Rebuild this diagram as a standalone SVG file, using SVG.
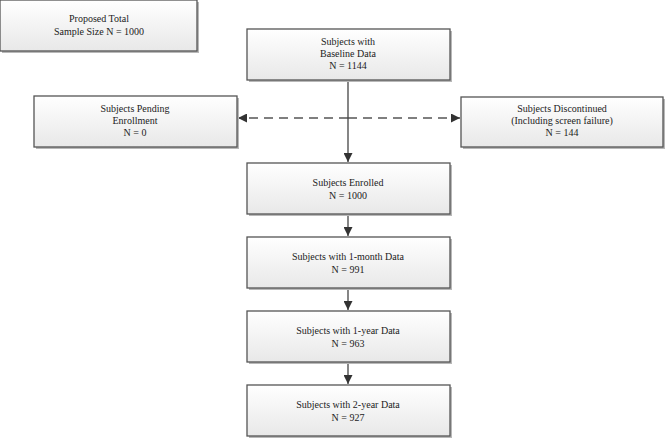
<svg xmlns="http://www.w3.org/2000/svg" width="666" height="438" viewBox="0 0 666 438">
<defs>
<linearGradient id="g" x1="0" y1="0" x2="0" y2="1">
<stop offset="0" stop-color="#ffffff"/>
<stop offset="1" stop-color="#e8e8e8"/>
</linearGradient>
<marker id="ah" viewBox="0 0 10 10" refX="10" refY="5" markerWidth="9" markerHeight="9" markerUnits="userSpaceOnUse" orient="auto">
<path d="M0,0 L10,5 L0,10 z" fill="#333"/>
</marker>
<style>
.sh{fill:#b8b8b8;}
.box{fill:url(#g);stroke:#555;stroke-width:1.3;}
text{font-family:"Liberation Serif","Times New Roman",serif;font-size:10px;fill:#222;text-anchor:middle;}
.ln{stroke:#444;stroke-width:1.3;fill:none;}
.dash{stroke:#555;stroke-width:1.3;fill:none;stroke-dasharray:9,6;}
</style>
</defs>
<g id="connectors">
<line class="dash" x1="348" y1="118" x2="238" y2="118" marker-end="url(#ah)"/>
<line class="dash" x1="348" y1="118" x2="460" y2="118" marker-end="url(#ah)"/>
<line class="ln" x1="348" y1="81" x2="348" y2="162" marker-end="url(#ah)"/>
<line class="ln" x1="348" y1="215" x2="348" y2="236" marker-end="url(#ah)"/>
<line class="ln" x1="348" y1="289" x2="348" y2="310" marker-end="url(#ah)"/>
<line class="ln" x1="348" y1="363" x2="348" y2="384" marker-end="url(#ah)"/>
</g>
<g id="proposed">
<rect class="sh" x="2" y="2" width="197" height="51"/>
<rect class="box" x="0" y="0" width="197" height="51"/>
<text x="99" y="22">Proposed Total</text>
<text x="99" y="35">Sample Size N = 1000</text>
</g>
<g id="baseline">
<rect class="sh" x="249" y="31" width="203" height="51"/>
<rect class="box" x="247" y="29" width="203" height="51"/>
<text x="348" y="45">Subjects with</text>
<text x="348" y="57">Baseline Data</text>
<text x="348" y="69">N = 1144</text>
</g>
<g id="pending">
<rect class="sh" x="36" y="98" width="203" height="51"/>
<rect class="box" x="34" y="96" width="203" height="51"/>
<text x="135" y="112">Subjects Pending</text>
<text x="135" y="124">Enrollment</text>
<text x="135" y="136">N = 0</text>
</g>
<g id="discontinued">
<rect class="sh" x="463" y="99" width="202" height="50"/>
<rect class="box" x="461" y="97" width="202" height="50"/>
<text x="562" y="112">Subjects Discontinued</text>
<text x="562" y="124">(Including screen failure)</text>
<text x="562" y="136">N = 144</text>
</g>
<g id="enrolled">
<rect class="sh" x="249" y="165" width="203" height="51"/>
<rect class="box" x="247" y="163" width="203" height="51"/>
<text x="348" y="186">Subjects Enrolled</text>
<text x="348" y="199">N = 1000</text>
</g>
<g id="month1">
<rect class="sh" x="249" y="239" width="203" height="51"/>
<rect class="box" x="247" y="237" width="203" height="51"/>
<text x="348" y="260">Subjects with 1-month Data</text>
<text x="348" y="273">N = 991</text>
</g>
<g id="year1">
<rect class="sh" x="249" y="313" width="203" height="51"/>
<rect class="box" x="247" y="311" width="203" height="51"/>
<text x="348" y="334">Subjects with 1-year Data</text>
<text x="348" y="347">N = 963</text>
</g>
<g id="year2">
<rect class="sh" x="249" y="387" width="203" height="51"/>
<rect class="box" x="247" y="385" width="203" height="51"/>
<text x="348" y="408">Subjects with 2-year Data</text>
<text x="348" y="421">N = 927</text>
</g>
</svg>
